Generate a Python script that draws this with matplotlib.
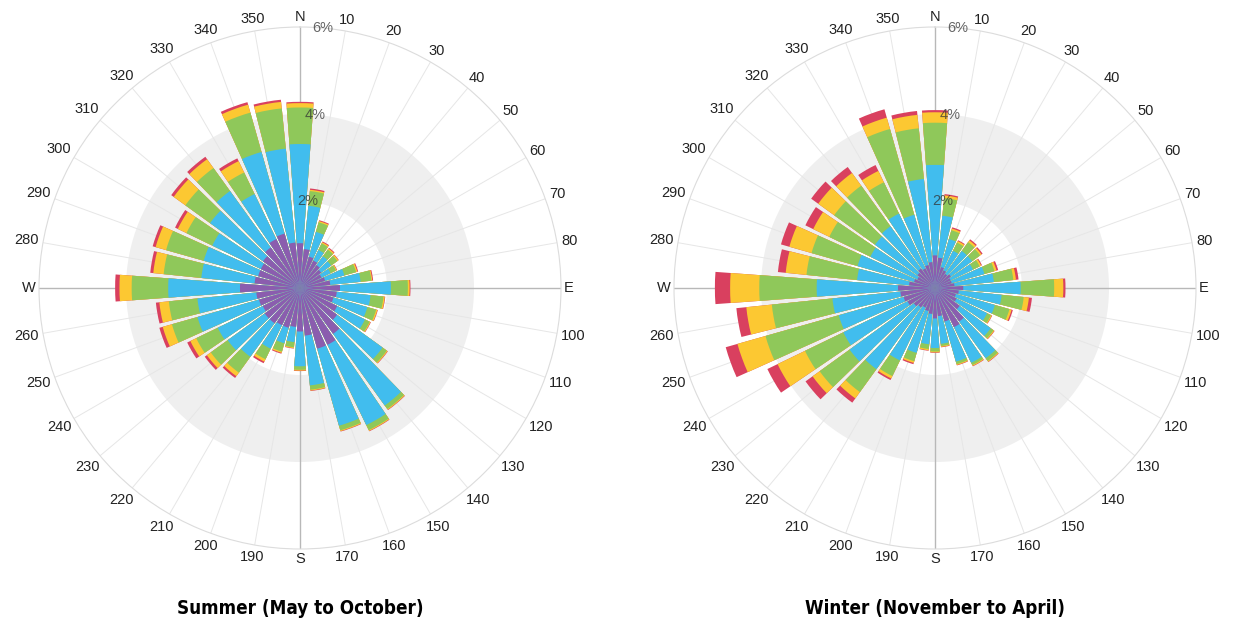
# 夏季 / 冬季 风玫瑰图 (按风速分级的累计频率 %)
import numpy as np
import matplotlib.pyplot as plt
from matplotlib import font_manager

# 风向 (度, 正北为0, 顺时针)
directions = np.arange(0, 360, 10)

# 各风速级别的累计频率 (%)，从最低风速(紫)到最高(红)
summer_purple = [1.03, 0.90, 0.75, 0.70, 0.65, 0.60, 0.55, 0.60, 0.70, 0.92, 0.85, 0.80,
                 0.95, 1.05, 1.30, 1.45, 1.45, 1.10, 1.00, 0.90, 0.95, 0.95, 1.00, 1.00,
                 0.95, 0.98, 1.01, 1.38, 1.05, 1.00, 1.00, 1.05, 1.15, 1.25, 1.30, 1.05]
summer_blue = [3.31, 1.90, 1.34, 0.97, 0.90, 0.88, 0.78, 1.06, 1.40, 2.09, 1.63, 1.61,
               1.66, 2.34, 3.33, 3.50, 3.29, 2.25, 1.80, 1.25, 1.32, 1.55, 1.95, 2.05,
               2.10, 2.45, 2.37, 3.03, 2.28, 2.30, 2.24, 2.55, 2.75, 2.40, 3.25, 3.22]
summer_green = [4.15, 2.24, 1.57, 1.14, 1.09, 1.06, 0.92, 1.34, 1.65, 2.48, 1.93, 1.82,
                1.78, 2.46, 3.43, 3.63, 3.40, 2.35, 1.88, 1.37, 1.52, 1.82, 2.40, 2.53,
                2.65, 3.06, 3.03, 3.87, 3.15, 3.20, 2.90, 3.25, 3.40, 2.95, 4.19, 4.15]
summer_yellow = [4.25, 2.27, 1.60, 1.17, 1.12, 1.09, 0.94, 1.37, 1.67, 2.52, 1.96, 1.85,
                 1.80, 2.48, 3.45, 3.65, 3.42, 2.37, 1.90, 1.39, 1.55, 1.88, 2.50, 2.64,
                 2.80, 3.28, 3.25, 4.15, 3.39, 3.45, 3.12, 3.58, 3.65, 3.24, 4.38, 4.30]
summer_red = [4.28, 2.30, 1.62, 1.19, 1.14, 1.10, 0.95, 1.39, 1.69, 2.54, 1.97, 1.86,
              1.81, 2.49, 3.46, 3.66, 3.43, 2.38, 1.91, 1.40, 1.57, 1.92, 2.55, 2.70,
              2.88, 3.36, 3.33, 4.25, 3.46, 3.52, 3.19, 3.65, 3.72, 3.31, 4.44, 4.35]

winter_purple = [0.75, 0.70, 0.50, 0.45, 0.40, 0.45, 0.40, 0.40, 0.45, 0.65, 0.55, 0.50,
                 0.55, 0.70, 0.95, 1.00, 0.80, 0.65, 0.70, 0.60, 0.55, 0.50, 0.55, 0.60,
                 0.70, 0.75, 0.80, 0.85, 0.60, 0.50, 0.45, 0.50, 0.55, 0.50, 0.55, 0.60]
winter_blue = [2.83, 1.67, 1.17, 0.95, 1.05, 1.05, 0.97, 1.18, 1.36, 1.97, 1.54, 1.43,
               1.33, 1.58, 1.99, 1.91, 1.76, 1.29, 1.38, 1.30, 1.55, 1.85, 2.30, 2.42,
               2.34, 2.30, 2.37, 2.72, 1.80, 1.85, 1.65, 1.70, 1.75, 1.90, 1.75, 2.52]
winter_green = [3.80, 2.08, 1.38, 1.16, 1.30, 1.28, 1.14, 1.42, 1.81, 2.74, 2.05, 1.78,
                1.43, 1.66, 2.07, 1.97, 1.82, 1.34, 1.46, 1.41, 1.75, 2.25, 2.95, 3.27,
                3.32, 4.05, 3.77, 4.04, 2.97, 2.95, 2.70, 2.86, 2.90, 2.70, 3.80, 3.69]
winter_yellow = [4.04, 2.14, 1.42, 1.20, 1.35, 1.32, 1.18, 1.47, 1.87, 2.95, 2.17, 1.83,
                 1.45, 1.68, 2.09, 1.99, 1.84, 1.36, 1.48, 1.44, 1.79, 2.31, 3.13, 3.47,
                 4.02, 4.72, 4.36, 4.71, 3.45, 3.48, 3.11, 3.31, 3.26, 2.99, 4.07, 4.00]
winter_red = [4.09, 2.17, 1.45, 1.22, 1.38, 1.35, 1.20, 1.51, 1.93, 3.00, 2.24, 1.86,
              1.46, 1.69, 2.10, 2.00, 1.85, 1.37, 1.49, 1.45, 1.82, 2.35, 3.25, 3.67,
              4.28, 5.00, 4.59, 5.06, 3.63, 3.68, 3.31, 3.51, 3.43, 3.14, 4.27, 4.09]

colors = ['#d9405f', '#fcc832', '#8fc85a', '#41bdee', '#8b5dae']  # 红 黄 绿 蓝 紫
compass = {0: 'N', 90: 'E', 180: 'S', 270: 'W'}
r_ticks = [2, 4, 6]

# 标题字体：优先找压缩(Condensed/Narrow)粗体
title_font = None
for f in font_manager.fontManager.ttflist:
    if ('Condensed' in f.fname or 'Narrow' in f.fname) and f.weight in (700, 'bold'):
        title_font = font_manager.FontProperties(fname=f.fname, size=13.5)
        break
if title_font is None:
    title_font = font_manager.FontProperties(family='Open Sans', weight='bold', size=13)

fig = plt.figure(figsize=(12.33, 6.26), dpi=100)
renderer = fig.canvas.get_renderer()
PX_PER_PCT = 261 / 6.0


def draw_rose(ax, layers, title, cx):
    theta = np.deg2rad(directions)
    ax.set_theta_zero_location('N')
    ax.set_theta_direction(-1)
    ax.set_ylim(0, 6)
    ax.set_yticks([])
    ax.set_xticks(np.deg2rad(np.arange(0, 360, 10)))
    ax.set_xticklabels([])
    ax.tick_params(length=0)
    ax.xaxis.grid(True, color='#e6e6e6', linewidth=0.7)
    ax.set_axisbelow(True)
    ax.spines['polar'].set_color('#dcdcdc')
    ax.spines['polar'].set_linewidth(0.8)

    # 2%-4% 灰色环带
    ax.bar(0, 2, width=2 * np.pi, bottom=2, color='#efefef', linewidth=0, zorder=0)
    # 主方向轴线
    for d in compass:
        ax.plot([np.deg2rad(d)] * 2, [0, 6], color='#b8b8b8', linewidth=1.0, zorder=1)

    # 叠加柱：从最大累计值开始画
    for vals, c in zip(layers, colors):
        ax.bar(theta, vals, width=np.deg2rad(8.4), color=c, linewidth=0, zorder=2)

    # 方向标签：文字框边缘贴着外圈
    for d in range(0, 360, 10):
        lab = compass.get(d, str(d))
        t = ax.text(np.deg2rad(d), 6.0, lab, ha='center', va='center', fontsize=10.5,
                    family='Liberation Sans', color='#222222')
        bb = t.get_window_extent(renderer)
        w, h = bb.width / 2, bb.height / 2
        a = np.deg2rad(d)
        off = 3 + w * abs(np.sin(a)) + h * abs(np.cos(a))
        t.set_position((a, 6.0 + off / PX_PER_PCT))
    # 半径标签
    for r in r_ticks:
        ax.text(np.deg2rad(5), r, f'{r}%', ha='center', va='center', fontsize=10.5,
                family='Liberation Sans', color='#333333', alpha=0.75, zorder=5)

    fig.text(cx, 0.028, title, ha='center', va='center', fontproperties=title_font)


ax1 = fig.add_axes([39 / 1233, 77 / 626, 522 / 1233, 522 / 626], projection='polar')
ax2 = fig.add_axes([674 / 1233, 77 / 626, 522 / 1233, 522 / 626], projection='polar')

draw_rose(ax1, [summer_red, summer_yellow, summer_green, summer_blue, summer_purple],
          'Summer (May to October)', 300 / 1233)
draw_rose(ax2, [winter_red, winter_yellow, winter_green, winter_blue, winter_purple],
          'Winter (November to April)', 935 / 1233)

fig.savefig('out.png', dpi=100)
